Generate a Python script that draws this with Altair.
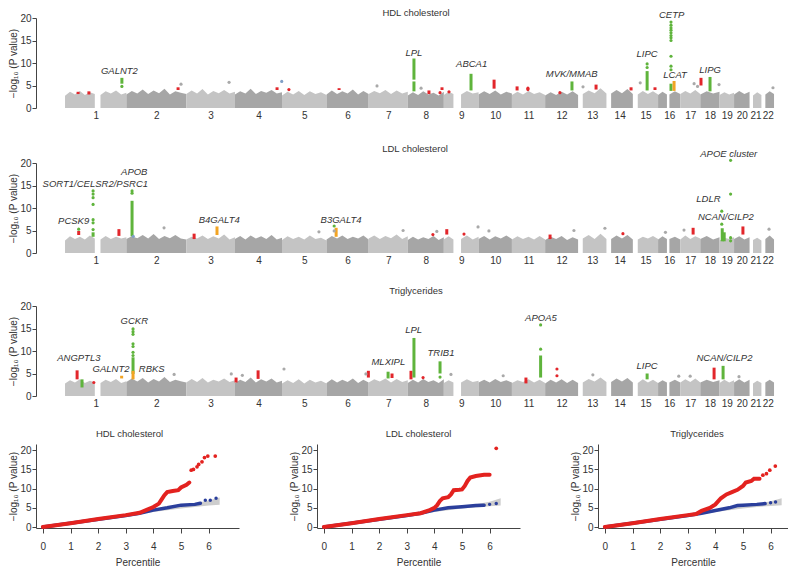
import json
import numpy as np
import pandas as pd
import altair as alt

FONT = "Liberation Sans"
RED = "#e2262b"
GREEN = "#5fb43c"
ORANGE = "#f2a424"
GREYDOT = "#a9a9a9"
BLUEDOT = "#7f9fc6"
QQ_RED = "#e3221f"
QQ_BLUE = "#2b3f9c"
BAND = "#cdcdcd"
LIGHT = "#c4c4c4"
DARK = "#a6a6a6"
TXT = "#333333"

# ---------------- genome layout (hg19, Mb) ----------------
CHROMS = list(range(1, 23))
CHROM_LEN = [249.3, 243.2, 198.0, 191.2, 180.9, 171.1, 159.1, 146.4, 141.2, 135.5, 135.0,
             133.9, 115.2, 107.3, 102.5, 90.4, 81.2, 78.1, 59.1, 63.0, 48.1, 51.3]
SEGMENTS = {1: [(0, 121), (144, 249.3)], 9: [(0, 39), (70, 141.2)], 13: [(19, 115.2)],
            14: [(19, 107.3)], 15: [(20, 102.5)], 16: [(0, 36), (46, 90.4)],
            21: [(14, 48.1)], 22: [(16, 51.3)]}
OFFSETS = list(np.concatenate([[0], np.cumsum(CHROM_LEN)[:-1]]))
CENTERS = [round(float(o + l / 2), 2) for o, l in zip(OFFSETS, CHROM_LEN)]

# ---------------- grey background profile (top of the SNP cloud) ----------------
HDL_PROFILE = {
    1: [[2.7, 3.6, 3.0, 3.8, 2.9, 3.5, 3.1], [2.9, 3.7, 3.2, 3.9, 3.0, 3.4]],
    2: [[3.0, 3.8, 3.2, 4.1, 3.1, 3.9, 3.3, 4.3, 3.0, 3.7, 3.4, 3.1]],
    3: [[3.1, 3.9, 3.2, 4.2, 3.0, 3.8, 3.3, 4.0, 3.2, 3.6]],
    4: [[3.0, 3.7, 3.2, 4.3, 3.1, 3.8, 3.4, 4.0, 3.2, 3.5]],
    5: [[2.8, 3.6, 3.0, 3.8, 2.9, 3.7, 3.1, 3.5, 2.9]],
    6: [[3.0, 3.9, 3.1, 3.7, 3.2, 4.1, 3.0, 3.8, 3.1]],
    7: [[3.1, 3.8, 3.3, 4.0, 3.1, 3.9, 3.2, 3.6]],
    8: [[2.8, 3.5, 2.9, 3.7, 3.0, 3.4, 2.8, 3.6]],
    9: [[2.9, 3.6, 3.1], [3.0, 3.8, 3.2, 3.5]],
    10: [[3.0, 3.7, 3.1, 3.9, 3.0, 3.6, 3.2]],
    11: [[2.9, 3.6, 3.0, 3.8, 3.1, 3.5, 2.9]],
    12: [[2.8, 3.5, 2.9, 3.6, 3.0, 3.7, 2.9]],
    13: [[3.1, 3.9, 3.3, 4.4, 3.2]],
    14: [[3.2, 4.0, 3.3, 4.2, 3.1]],
    15: [[3.0, 3.8, 3.1, 3.7, 3.0]],
    16: [[2.9, 3.6, 3.0], [3.0, 3.7, 3.1]],
    17: [[3.1, 3.8, 3.2, 4.0, 3.1]],
    18: [[3.0, 3.7, 3.2, 3.6]],
    19: [[2.9, 3.5, 3.0, 3.4]],
    20: [[3.0, 3.8, 3.1, 3.6]],
    21: [[2.8, 3.5, 2.9]],
    22: [[3.0, 3.7, 3.1]],
}
LDL_PROFILE = {
    1: [[2.8, 3.7, 3.1, 3.6, 3.0, 3.9, 3.2], [3.0, 3.8, 3.1, 3.6, 3.2, 3.5]],
    2: [[3.1, 3.7, 3.3, 4.0, 3.2, 4.2, 3.1, 3.8, 3.3, 4.0, 3.2, 3.0]],
    3: [[3.0, 3.6, 3.2, 3.9, 3.1, 3.7, 3.2, 4.1, 3.0, 3.5]],
    4: [[3.1, 3.8, 3.0, 3.9, 3.2, 3.7, 3.1, 4.0, 3.0, 3.4]],
    5: [[2.9, 3.7, 3.1, 3.6, 3.0, 3.9, 3.1, 3.4, 2.8]],
    6: [[3.0, 3.8, 3.2, 3.9, 3.1, 3.6, 3.2, 3.9, 3.0]],
    7: [[3.2, 3.9, 3.1, 3.8, 3.3, 4.1, 3.1, 3.7]],
    8: [[2.9, 3.6, 3.0, 3.5, 3.1, 3.8, 2.9, 3.5]],
    9: [[3.0, 3.7, 3.0], [3.1, 3.9, 3.0, 3.6]],
    10: [[3.1, 3.8, 3.0, 3.7, 3.2, 3.9, 3.1]],
    11: [[3.0, 3.7, 3.1, 3.6, 3.0, 3.8, 3.0]],
    12: [[2.9, 3.6, 3.1, 3.8, 2.9, 3.5, 3.0]],
    13: [[3.2, 4.0, 3.1, 4.3, 3.1]],
    14: [[3.1, 3.9, 3.2, 4.0, 3.0]],
    15: [[3.0, 3.6, 3.2, 3.8, 3.1]],
    16: [[3.0, 3.7, 3.1], [3.1, 3.6, 3.0]],
    17: [[3.0, 3.9, 3.1, 3.7, 3.2]],
    18: [[3.1, 3.8, 3.0, 3.5]],
    19: [[2.8, 3.4, 3.1, 3.5]],
    20: [[3.1, 3.7, 3.0, 3.5]],
    21: [[2.9, 3.4, 2.8]],
    22: [[3.1, 3.9, 3.0]],
}
TG_PROFILE = {
    1: [[2.8, 3.5, 3.0, 3.7, 2.9, 3.4, 3.0], [2.9, 3.6, 3.1, 3.8, 2.9, 3.3]],
    2: [[3.1, 3.9, 3.2, 4.0, 3.0, 3.8, 3.2, 4.2, 3.1, 3.6, 3.3, 3.0]],
    3: [[3.0, 3.8, 3.1, 4.0, 3.0, 3.6, 3.2, 3.9, 3.1, 3.5]],
    4: [[2.9, 3.6, 3.1, 4.1, 3.0, 3.7, 3.2, 3.9, 3.0, 3.4]],
    5: [[2.8, 3.5, 2.9, 3.7, 2.8, 3.6, 3.0, 3.4, 2.8]],
    6: [[2.9, 3.7, 3.0, 3.6, 3.1, 3.9, 2.9, 3.6, 3.0]],
    7: [[3.0, 3.7, 3.2, 3.9, 3.0, 3.8, 3.1, 3.5]],
    8: [[2.9, 3.6, 3.0, 3.8, 3.1, 3.5, 2.9, 3.7]],
    9: [[2.9, 3.5, 3.0], [3.0, 3.7, 3.1, 3.4]],
    10: [[3.0, 3.6, 3.0, 3.8, 3.1, 3.5, 3.0]],
    11: [[2.9, 3.5, 3.1, 3.7, 3.0, 3.6, 2.9]],
    12: [[2.8, 3.6, 3.0, 3.7, 2.9, 3.6, 2.9]],
    13: [[3.0, 3.8, 3.2, 4.1, 3.1]],
    14: [[3.1, 3.9, 3.2, 4.0, 3.0]],
    15: [[2.9, 3.7, 3.0, 3.6, 2.9]],
    16: [[2.9, 3.5, 3.0], [3.0, 3.6, 3.0]],
    17: [[3.0, 3.7, 3.1, 3.9, 3.0]],
    18: [[3.0, 3.6, 3.1, 3.5]],
    19: [[2.9, 3.6, 3.0, 3.5]],
    20: [[3.0, 3.7, 3.0, 3.6]],
    21: [[2.8, 3.4, 2.9]],
    22: [[3.0, 3.6, 3.0]],
}

# ---------------- highlighted loci: (chrom, pos Mb, low, high, colour) ----------------
HDL_COLUMNS = [
    (1, 53, 3.1, 3.6, RED), (1, 97, 3.0, 3.7, RED), (1, 231, 5.4, 6.7, GREEN),
    (2, 210, 4.0, 4.6, RED), (4, 171, 4.0, 4.6, RED), (6, 51, 4.0, 4.4, RED),
    (8, 25, 6.3, 11.0, GREEN), (8, 25, 3.7, 5.9, GREEN), (8, 86, 3.1, 3.9, RED),
    (8, 139, 4.0, 4.6, RED), (9, 110.5, 3.9, 7.6, GREEN), (10, 63, 4.3, 6.3, RED),
    (11, 21, 3.9, 4.8, RED), (12, 109, 3.9, 5.9, GREEN), (13, 73, 4.1, 5.2, RED),
    (14, 100, 3.9, 4.6, RED), (15, 58, 3.9, 8.2, GREEN), (15, 90, 4.0, 4.6, RED),
    (16, 52.5, 3.8, 5.4, GREEN), (16, 65, 3.8, 6.0, ORANGE), (18, 2.8, 5.0, 6.7, RED),
    (18, 39.5, 3.7, 6.9, GREEN),
]
HDL_DOTS = [
    (1, 231, 4.8, GREEN), (5, 28, 4.1, RED), (8, 131, 3.4, RED), (9, 21, 3.6, RED),
    (11, 65, 4.1, RED), (11, 65, 4.4, RED), (12, 60, 3.4, RED),
    (15, 58, 9.0, GREEN), (15, 58, 9.8, GREEN),
    (16, 52.5, 19.1, GREEN), (16, 52.5, 18.4, GREEN), (16, 52.5, 17.8, GREEN),
    (16, 52.5, 17.3, GREEN), (16, 52.5, 16.7, GREEN), (16, 52.5, 16.1, GREEN),
    (16, 52.5, 15.6, GREEN), (16, 52.5, 15.0, GREEN), (16, 52.5, 11.5, GREEN),
    (16, 52.5, 9.3, GREEN), (16, 52.5, 8.5, GREEN),
    (2, 222, 5.3, GREYDOT), (3, 174, 5.7, GREYDOT), (4, 190, 5.9, BLUEDOT),
    (7, 34, 4.9, GREYDOT), (8, 54, 4.4, GREYDOT), (13, 20, 4.7, GREYDOT),
    (15, 30, 5.6, GREYDOT), (17, 56, 5.4, GREYDOT), (18, 76, 5.2, GREYDOT),
    (22, 47, 4.5, GREYDOT), (17, 70, 4.8, GREYDOT),
]
HDL_LABELS = [
    ("GALNT2", 1, 221, 8.2), ("LPL", 8, 25, 12.2), ("ABCA1", 9, 113, 9.7),
    ("MVK/MMAB", 12, 108, 7.6), ("LIPC", 15, 58, 12.0), ("CETP", 16, 55, 20.7),
    ("LCAT", 16, 69, 7.3), ("LIPG", 18, 40, 8.4),
]

LDL_COLUMNS = [
    (1, 55.5, 4.0, 4.9, RED), (1, 114, 3.6, 4.6, GREEN), (1, 219, 3.8, 5.3, RED),
    (2, 23, 3.7, 11.6, GREEN), (3, 32, 3.1, 4.3, RED), (3, 125, 4.0, 5.9, ORANGE),
    (6, 39, 3.6, 5.6, ORANGE), (9, 12, 4.1, 5.3, RED), (12, 20, 3.1, 4.1, RED),
    (17, 52, 4.1, 5.6, RED), (19, 11, 2.6, 5.5, GREEN), (19, 19, 2.6, 4.6, GREEN),
    (20, 36, 4.1, 5.9, RED),
]
LDL_DOTS = [
    (1, 55.5, 5.3, GREEN),
    (1, 114, 13.8, GREEN), (1, 114, 13.1, GREEN), (1, 114, 12.3, GREEN),
    (1, 114, 10.8, GREEN), (1, 114, 7.4, GREEN), (1, 114, 6.7, GREEN), (1, 114, 5.2, GREEN),
    (2, 23, 13.8, GREEN), (2, 23, 13.3, GREEN), (2, 28, 3.7, BLUEDOT),
    (6, 31, 6.0, GREEN), (6, 31, 4.9, GREYDOT), (8, 102, 4.1, RED), (9, 82, 4.2, RED),
    (14, 67, 4.3, RED),
    (19, 45, 20.6, GREEN), (19, 45, 13.1, GREEN), (19, 45, 3.4, GREEN), (19, 45, 2.7, GREEN),
    (19, 9, 9.3, GREEN), (19, 9, 6.4, GREEN),
    (2, 153, 5.6, GREYDOT), (9, 139, 5.8, GREYDOT), (12, 117, 5.0, GREYDOT),
    (13, 109, 5.5, GREYDOT), (22, 31, 5.3, GREYDOT), (17, 15, 5.1, GREYDOT),
    (8, 118, 4.8, GREYDOT), (16, 30, 4.6, GREYDOT), (10, 42, 4.9, GREYDOT),
    (5, 150, 4.7, GREYDOT), (7, 140, 5.0, GREYDOT),
]
LDL_LABELS = [
    ("PCSK9", 1, 35, 7.1), ("SORT1/CELSR2/PSRC1", 1, 123, 15.3), ("APOB", 2, 32, 18.1),
    ("B4GALT4", 3, 134, 7.4), ("B3GALT4", 6, 59, 7.4), ("APOE cluster", 19, 37.5, 21.9),
    ("LDLR", 18, 33, 12.1), ("NCAN/CILP2", 19, 26, 8.0),
]

TG_COLUMNS = [
    (1, 49, 3.7, 5.7, RED), (1, 69, 1.9, 3.7, GREEN), (1, 230, 3.9, 4.5, ORANGE),
    (2, 27, 4.9, 8.6, GREEN), (2, 27, 3.7, 5.6, ORANGE), (4, 4.5, 3.0, 4.1, RED),
    (4, 94, 3.8, 5.7, RED), (6, 170, 4.1, 5.6, RED), (7, 79, 3.9, 5.4, GREEN),
    (7, 95, 4.0, 5.0, RED), (8, 13, 3.7, 5.6, RED), (8, 25, 4.1, 12.9, GREEN),
    (8, 131, 5.0, 7.7, GREEN), (11, 57, 2.8, 4.1, RED), (11, 116.6, 4.1, 9.0, GREEN),
    (15, 58, 3.7, 5.0, GREEN), (18, 56, 3.7, 6.3, RED), (19, 14.5, 3.7, 6.7, GREEN),
]
TG_DOTS = [
    (1, 117, 3.0, RED),
    (2, 27, 14.9, GREEN), (2, 27, 14.3, GREEN), (2, 27, 13.7, GREEN), (2, 27, 11.6, GREEN),
    (2, 27, 11.0, GREEN), (2, 27, 9.7, GREEN), (2, 27, 9.0, GREEN),
    (8, 62, 4.1, RED), (8, 131, 4.2, GREEN),
    (11, 116.6, 15.8, GREEN), (11, 116.6, 10.4, GREEN),
    (12, 48, 6.0, RED), (12, 48, 4.5, RED),
    (2, 194, 4.8, GREYDOT), (5, 8, 6.0, GREYDOT), (3, 183, 4.9, GREYDOT),
    (9, 29, 4.8, GREYDOT), (16, 84, 4.4, GREYDOT), (6, 160, 4.9, GREYDOT),
    (4, 30, 4.6, GREYDOT), (10, 100, 4.5, GREYDOT), (17, 40, 4.4, GREYDOT),
    (13, 60, 4.7, GREYDOT), (20, 20, 4.3, GREYDOT),
]
TG_LABELS = [
    ("ANGPTL3", 1, 56, 8.4), ("GALNT2", 1, 187, 6.1), ("RBKS", 2, 103, 6.1),
    ("GCKR", 2, 32, 16.6), ("MLXIPL", 7, 80, 7.5), ("LPL", 8, 24, 14.7),
    ("TRIB1", 8, 135, 9.5), ("APOA5", 11, 118, 17.3), ("LIPC", 15, 58, 6.6),
    ("NCAN/CILP2", 19, 20, 8.4),
]

# ---------------- QQ plots ----------------
HDL_QQ_RED_X = [0, 1, 2, 3, 3.5, 3.8, 4.0, 4.2, 4.3, 4.4, 4.5, 4.7, 4.9, 5.0, 5.2, 5.3]
HDL_QQ_RED_Y = [0, 1.0, 2.1, 3.1, 3.7, 4.6, 5.2, 6.1, 7.2, 8.3, 9.1, 9.4, 9.6, 10.3, 11.0, 11.6]
HDL_QQ_RED_DOT_X = [5.37, 5.45, 5.58, 5.64, 5.76, 5.85, 5.97, 6.24]
HDL_QQ_RED_DOT_Y = [14.8, 15.0, 15.7, 16.3, 17.0, 18.1, 18.5, 18.5]
HDL_QQ_BLUE_X = [0, 3.0, 3.5, 4.0, 4.5, 5.0, 5.5, 5.7]
HDL_QQ_BLUE_Y = [0, 3.0, 3.6, 4.4, 5.0, 5.7, 5.9, 6.2]
HDL_QQ_BLUE_DOT_X = [5.88, 6.06, 6.27]
HDL_QQ_BLUE_DOT_Y = [7.0, 7.0, 7.5]

LDL_QQ_RED_X = [0, 1, 2, 3, 3.5, 3.8, 4.0, 4.1, 4.2, 4.3, 4.5, 4.6, 4.7, 4.9, 5.0, 5.1, 5.2,
                5.3, 5.5, 5.8, 6.0]
LDL_QQ_RED_Y = [0, 1.0, 2.1, 3.1, 3.6, 4.3, 5.0, 5.7, 6.8, 7.5, 7.8, 8.5, 9.6, 9.7, 9.8, 10.7,
                12.0, 12.9, 13.3, 13.6, 13.6]
LDL_QQ_RED_DOT_X = [6.24]
LDL_QQ_RED_DOT_Y = [20.5]
LDL_QQ_BLUE_X = [0, 3.0, 3.5, 4.0, 4.5, 5.0, 5.5, 5.8]
LDL_QQ_BLUE_Y = [0, 3.0, 3.6, 4.4, 5.0, 5.3, 5.6, 5.7]
LDL_QQ_BLUE_DOT_X = [6.0, 6.24]
LDL_QQ_BLUE_DOT_Y = [5.9, 6.1]

TG_QQ_RED_X = [0, 1, 2, 3, 3.3, 3.5, 3.8, 4.0, 4.2, 4.4, 4.6, 4.8, 5.0, 5.1, 5.3, 5.4, 5.6]
TG_QQ_RED_Y = [0, 1.0, 2.1, 3.1, 3.4, 4.2, 5.0, 5.9, 7.5, 8.5, 9.1, 9.7, 10.7, 11.6, 12.0, 12.6, 12.6]
TG_QQ_RED_DOT_X = [5.72, 5.85, 5.97, 6.17]
TG_QQ_RED_DOT_Y = [13.5, 13.9, 14.8, 15.9]
TG_QQ_BLUE_X = [0, 3.0, 3.5, 4.0, 4.5, 4.8, 5.0, 5.5, 5.8]
TG_QQ_BLUE_Y = [0, 3.0, 3.6, 4.3, 5.0, 5.6, 5.7, 5.9, 6.1]
TG_QQ_BLUE_DOT_X = [6.0, 6.18]
TG_QQ_BLUE_DOT_Y = [6.3, 6.5]

BAND_X = [3.5, 4.0, 4.5, 5.0, 5.5, 6.0, 6.4]
HDL_BAND_LO = [3.4, 3.9, 4.4, 4.8, 5.2, 5.6, 5.8]
HDL_BAND_HI = [3.7, 4.3, 4.9, 5.5, 6.2, 6.9, 7.7]
LDL_BAND_LO = [3.4, 3.9, 4.4, 4.8, 5.1, 5.4, 5.6]
LDL_BAND_HI = [3.7, 4.3, 4.8, 5.3, 5.9, 6.6, 7.5]
TG_BAND_LO = [3.4, 3.9, 4.4, 4.8, 5.2, 5.5, 5.7]
TG_BAND_HI = [3.7, 4.3, 4.9, 5.4, 6.0, 6.7, 7.5]

Y_TICKS = [0, 5, 10, 15, 20]
QQ_X_TICKS = [0, 1, 2, 3, 4, 5, 6]
Y_TITLE = "\u2212log\u2081\u2080 (P value)"


def gpos(chrom, pos):
    return float(OFFSETS[chrom - 1] + pos)


# ---------------- Manhattan panel ----------------
MAN_W, MAN_H = 740, 90
MAN_X = alt.Scale(domain=[-118, 2889], nice=False, zero=False)
MAN_Y = alt.Scale(domain=[0, 20], nice=False, zero=False)
LABEL_EXPR = "indexof(" + json.dumps(CENTERS) + ", datum.value) + 1"
MAN_XAXIS = alt.Axis(values=CENTERS, labelExpr=LABEL_EXPR, domain=False, ticks=False, tickSize=0,
                     labelPadding=2, title=None, labelOverlap=False, labelFlush=False, grid=False)
MAN_YAXIS = alt.Axis(values=Y_TICKS, title=Y_TITLE, tickSize=4, labelPadding=1, titlePadding=1,
                     labelFlush=False, grid=False)


def mx(field):
    return alt.X(f"{field}:Q", scale=MAN_X, axis=MAN_XAXIS)


def my(field):
    return alt.Y(f"{field}:Q", scale=MAN_Y, axis=MAN_YAXIS, stack=None)


def manhattan(profile, columns, dots, labels, title, offset, dx):
    rows = []
    for c in CHROMS:
        segs = SEGMENTS.get(c, [(0, CHROM_LEN[c - 1])])
        for si, (s, e) in enumerate(segs):
            hs = profile[c][si]
            for x, h in zip(np.linspace(s, e, len(hs)), hs):
                rows.append({"g": gpos(c, x), "h": h, "seg": f"{c}-{si}",
                             "shade": "light" if c % 2 else "dark"})
    prof = pd.DataFrame(rows)
    cols = pd.DataFrame([{"g": gpos(c, p), "lo": lo, "hi": hi, "col": col}
                         for c, p, lo, hi, col in columns])
    dts = pd.DataFrame([{"g": gpos(c, p), "v": v, "col": col} for c, p, v, col in dots])
    lab = pd.DataFrame([{"g": gpos(c, p), "v": v, "t": t} for t, c, p, v in labels])

    area = alt.Chart(prof).mark_area(interpolate="linear").encode(
        x=mx("g"), y=my("h"),
        color=alt.Color("shade:N", scale=alt.Scale(domain=["light", "dark"], range=[LIGHT, DARK]),
                        legend=None),
        detail="seg:N")
    rules = alt.Chart(cols).mark_rule(strokeWidth=3).encode(
        x=mx("g"), y=my("lo"), y2="hi:Q", color=alt.Color("col:N", scale=None))
    pts = alt.Chart(dts).mark_circle(size=10, opacity=1).encode(
        x=mx("g"), y=my("v"), color=alt.Color("col:N", scale=None))
    txt = alt.Chart(lab).mark_text(font=FONT, fontSize=9.5, fontStyle="italic", color=TXT).encode(
        x=mx("g"), y=my("v"), text="t:N")
    return alt.layer(area, rules, pts, txt).properties(
        width=MAN_W, height=MAN_H,
        title=alt.TitleParams(title, anchor="middle", frame="group", offset=offset, dx=dx))


# ---------------- QQ panel ----------------
QQ_H = 84
QQ_Y = alt.Scale(domain=[-0.26, 21.64], nice=False, zero=False)
QQ_XAXIS = alt.Axis(values=QQ_X_TICKS, title="Percentile", tickSize=5, labelPadding=8,
                    titlePadding=6, labelFlush=False, grid=False, format="d")
QQ_YAXIS = alt.Axis(values=Y_TICKS, title=Y_TITLE, tickSize=4, labelPadding=1, titlePadding=1,
                    labelFlush=False, grid=False)


def qq(rx, ry, rdx, rdy, bx, by, bdx, bdy, blo, bhi, title, width, xmax, dx):
    xs = alt.Scale(domain=[-0.25, xmax], nice=False, zero=False)

    def qx(f):
        return alt.X(f"{f}:Q", scale=xs, axis=QQ_XAXIS)

    def qy(f):
        return alt.Y(f"{f}:Q", scale=QQ_Y, axis=QQ_YAXIS, stack=None)

    band = alt.Chart(pd.DataFrame({"x": BAND_X, "lo": blo, "hi": bhi})).mark_area(
        color=BAND).encode(x=qx("x"), y=qy("lo"), y2="hi:Q")
    bline = alt.Chart(pd.DataFrame({"x": bx, "y": by})).mark_line(
        color=QQ_BLUE, strokeWidth=3.5, strokeCap="round").encode(x=qx("x"), y=qy("y"))
    bdots = alt.Chart(pd.DataFrame({"x": bdx, "y": bdy})).mark_circle(
        color=QQ_BLUE, size=12, opacity=1).encode(x=qx("x"), y=qy("y"))
    rline = alt.Chart(pd.DataFrame({"x": rx, "y": ry})).mark_line(
        color=QQ_RED, strokeWidth=4, strokeCap="round").encode(x=qx("x"), y=qy("y"))
    rdots = alt.Chart(pd.DataFrame({"x": rdx, "y": rdy})).mark_circle(
        color=QQ_RED, size=14, opacity=1).encode(x=qx("x"), y=qy("y"))
    return alt.layer(band, bline, bdots, rline, rdots).properties(
        width=width, height=QQ_H,
        title=alt.TitleParams(title, anchor="middle", frame="group", offset=6, dx=dx))


p1 = manhattan(HDL_PROFILE, HDL_COLUMNS, HDL_DOTS, HDL_LABELS, "HDL cholesterol", -8, 10)
p2 = manhattan(LDL_PROFILE, LDL_COLUMNS, LDL_DOTS, LDL_LABELS, "LDL cholesterol", -4, 9)
p3 = manhattan(TG_PROFILE, TG_COLUMNS, TG_DOTS, TG_LABELS, "Triglycerides", 6, 10)

q1 = qq(HDL_QQ_RED_X, HDL_QQ_RED_Y, HDL_QQ_RED_DOT_X, HDL_QQ_RED_DOT_Y, HDL_QQ_BLUE_X,
        HDL_QQ_BLUE_Y, HDL_QQ_BLUE_DOT_X, HDL_QQ_BLUE_DOT_Y, HDL_BAND_LO, HDL_BAND_HI,
        "HDL cholesterol", 203, 7.1, -8)
q2 = qq(LDL_QQ_RED_X, LDL_QQ_RED_Y, LDL_QQ_RED_DOT_X, LDL_QQ_RED_DOT_Y, LDL_QQ_BLUE_X,
        LDL_QQ_BLUE_Y, LDL_QQ_BLUE_DOT_X, LDL_QQ_BLUE_DOT_Y, LDL_BAND_LO, LDL_BAND_HI,
        "LDL cholesterol", 203, 7.1, 0)
q3 = qq(TG_QQ_RED_X, TG_QQ_RED_Y, TG_QQ_RED_DOT_X, TG_QQ_RED_DOT_Y, TG_QQ_BLUE_X,
        TG_QQ_BLUE_Y, TG_QQ_BLUE_DOT_X, TG_QQ_BLUE_DOT_Y, TG_BAND_LO, TG_BAND_HI,
        "Triglycerides", 190, 6.63, 4)

upper = alt.vconcat(alt.vconcat(p1, p2, spacing=23), p3, spacing=20)
bottom = alt.hconcat(q1, q2, q3, spacing=50)
chart = alt.vconcat(upper, bottom, spacing=20).properties(
    padding={"left": 0, "top": 0, "right": 0, "bottom": 0}
).configure_view(stroke=None).configure_axis(
    grid=False, labelFont=FONT, titleFont=FONT, labelFontSize=10, titleFontSize=10,
    labelColor=TXT, titleColor=TXT, domainColor="#444", tickColor="#444",
    titleFontWeight="normal"
).configure_title(font=FONT, fontSize=9.5, fontWeight="normal", color=TXT)

chart.save("out.html", embed_options={"renderer": "svg", "actions": False})
